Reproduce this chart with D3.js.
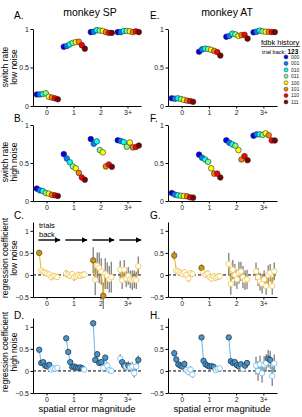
<!DOCTYPE html>
<html>
<head>
<meta charset="utf-8">
<script src="https://cdn.jsdelivr.net/npm/d3@7"></script>
<style>
  body { margin: 0; background: #fff; }
  svg text { font-family: "Liberation Sans", Arial, sans-serif; }
</style>
</head>
<body>
<svg id="fig" width="302" height="417"></svg>
<script>
// categories
const errGroups = [0, 1, 2, 3];
const errLabels = ['0', '1', '2', '3+'];
const histories = ['000', '001', '010', '011', '100', '101', '110', '111'];
const jetColors = ['#0000ff', '#0080ff', '#00ffff', '#80ff80', '#ffff00', '#ff8000', '#ff0000', '#800000'];

// switch rate, one row per error magnitude, one value per feedback history
const swSPlow = [
  [0.15, 0.15, 0.155, 0.165, 0.12, 0.11, 0.10, 0.087],
  [0.77, 0.78, 0.80, 0.82, 0.83, 0.835, 0.79, 0.745],
  [0.96, 0.965, 0.985, 0.98, 0.975, 0.96, 0.95, 0.95],
  [0.96, 0.96, 0.975, 0.975, 0.97, 0.96, 0.97, 0.96]
];
const swATlow = [
  [0.10, 0.095, 0.10, 0.09, 0.08, 0.07, 0.065, 0.055],
  [0.705, 0.735, 0.745, 0.74, 0.73, 0.715, 0.70, 0.655],
  [0.90, 0.91, 0.94, 0.93, 0.91, 0.92, 0.925, 0.875],
  [0.957, 0.965, 0.98, 0.97, 0.965, 0.965, 0.96, 0.96]
];
const swSPhigh = [
  [0.163, 0.14, 0.13, 0.105, 0.097, 0.08, 0.075, 0.066],
  [0.617, 0.56, 0.51, 0.455, 0.43, 0.37, 0.31, 0.28],
  [0.815, 0.753, 0.784, 0.67, 0.64, 0.455, 0.48, 0.45],
  [0.80, 0.79, 0.775, 0.714, 0.77, 0.705, 0.71, 0.73]
];
const swAThigh = [
  [0.105, 0.084, 0.075, 0.07, 0.066, 0.062, 0.048, 0.044],
  [0.61, 0.57, 0.546, 0.515, 0.43, 0.36, 0.36, 0.31],
  [0.80, 0.766, 0.745, 0.727, 0.67, 0.546, 0.59, 0.537],
  [0.86, 0.877, 0.877, 0.87, 0.89, 0.865, 0.797, 0.797]
];

// regression coefficients per trials back (10 lags) for each error magnitude
const regSPlow = [
  [0.50, 0.10, 0.07, 0.05, 0.03, 0.01, -0.05, -0.02, -0.03, -0.05],
  [0.03, 0.01, -0.02, 0.02, -0.05, -0.03, 0.00, -0.02, 0.00, 0.01],
  [0.33, -0.11, 0.21, 0.16, 0.08, -0.47, 0.03, -0.02, -0.10, -0.05],
  [0.12, -0.12, 0.12, -0.08, -0.02, -0.10, -0.12, -0.10, -0.12, 0.20]
];
const regSPlowErr = [
  [0.07, 0.06, 0.06, 0.06, 0.06, 0.06, 0.07, 0.06, 0.06, 0.06],
  [0.08, 0.07, 0.07, 0.07, 0.08, 0.07, 0.07, 0.07, 0.07, 0.07],
  [0.30, 0.35, 0.30, 0.35, 0.30, 0.30, 0.35, 0.30, 0.30, 0.35],
  [0.20, 0.20, 0.22, 0.20, 0.20, 0.20, 0.22, 0.20, 0.20, 0.22]
];
const regSPlowSig = [
  [1, 0, 0, 0, 0, 0, 0, 0, 0, 0],
  [0, 0, 0, 0, 0, 0, 0, 0, 0, 0],
  [1, 0, 0, 0, 0, 1, 0, 0, 0, 0],
  [0, 0, 0, 0, 0, 0, 0, 0, 0, 0]
];
const regATlow = [
  [0.44, 0.10, 0.08, 0.05, 0.02, 0.06, 0.00, -0.08, 0.04, 0.02],
  [0.16, 0.05, 0.01, 0.03, -0.05, -0.08, -0.03, -0.06, -0.04, -0.03],
  [0.25, -0.20, 0.12, 0.00, -0.10, 0.05, 0.08, -0.05, -0.12, -0.10],
  [0.08, -0.05, -0.15, -0.20, -0.10, -0.25, 0.00, 0.05, -0.25, 0.08]
];
const regATlowErr = [
  [0.10, 0.07, 0.07, 0.07, 0.07, 0.07, 0.07, 0.08, 0.07, 0.07],
  [0.08, 0.07, 0.07, 0.07, 0.07, 0.07, 0.07, 0.07, 0.07, 0.07],
  [0.25, 0.25, 0.22, 0.25, 0.22, 0.25, 0.22, 0.25, 0.22, 0.22],
  [0.20, 0.20, 0.20, 0.22, 0.20, 0.20, 0.22, 0.20, 0.20, 0.20]
];
const regATlowSig = [
  [1, 0, 0, 0, 0, 0, 0, 0, 0, 0],
  [1, 0, 0, 0, 0, 0, 0, 0, 0, 0],
  [0, 0, 0, 0, 0, 0, 0, 0, 0, 0],
  [0, 0, 0, 0, 0, 0, 0, 0, 0, 0]
];
const regSPhigh = [
  [0.48, 0.18, 0.20, 0.12, 0.10, 0.14, 0.03, 0.06, 0.05, 0.07],
  [0.74, 0.43, 0.20, 0.09, 0.10, 0.08, 0.07, 0.08, 0.06, 0.03],
  [1.08, 0.25, 0.38, 0.18, 0.20, 0.07, 0.30, 0.12, 0.02, 0.00],
  [0.28, 0.20, 0.12, 0.10, 0.12, 0.08, 0.10, -0.05, 0.10, 0.25]
];
const regSPhighErr = [
  [0.06, 0.05, 0.05, 0.05, 0.05, 0.05, 0.05, 0.05, 0.05, 0.05],
  [0.06, 0.06, 0.05, 0.05, 0.05, 0.05, 0.05, 0.05, 0.05, 0.05],
  [0.07, 0.07, 0.07, 0.07, 0.07, 0.07, 0.07, 0.07, 0.07, 0.07],
  [0.10, 0.10, 0.10, 0.10, 0.10, 0.10, 0.10, 0.10, 0.10, 0.10]
];
const regSPhighSig = [
  [1, 1, 1, 1, 1, 1, 0, 0, 0, 0],
  [1, 1, 1, 1, 1, 1, 1, 1, 1, 0],
  [1, 1, 1, 1, 1, 0, 1, 0, 0, 0],
  [0, 1, 1, 0, 1, 0, 0, 0, 0, 1]
];
const regAThigh = [
  [0.40, 0.26, 0.15, 0.12, 0.10, 0.16, 0.02, -0.02, 0.03, -0.08],
  [0.76, 0.23, 0.15, 0.12, 0.10, 0.11, 0.09, 0.02, 0.05, 0.06],
  [0.76, 0.22, 0.18, 0.20, 0.13, 0.10, 0.15, 0.05, 0.12, 0.18],
  [0.12, 0.00, 0.15, -0.05, 0.14, 0.18, 0.28, 0.25, -0.12, 0.17]
];
const regAThighErr = [
  [0.08, 0.07, 0.07, 0.07, 0.07, 0.07, 0.08, 0.08, 0.08, 0.08],
  [0.05, 0.05, 0.05, 0.05, 0.05, 0.05, 0.05, 0.05, 0.05, 0.05],
  [0.06, 0.06, 0.06, 0.06, 0.06, 0.06, 0.06, 0.06, 0.06, 0.06],
  [0.20, 0.22, 0.20, 0.22, 0.20, 0.20, 0.20, 0.20, 0.22, 0.20]
];
const regAThighSig = [
  [1, 1, 1, 1, 1, 1, 0, 0, 0, 0],
  [1, 1, 1, 1, 1, 1, 1, 0, 0, 0],
  [1, 1, 1, 1, 1, 1, 1, 0, 1, 1],
  [0, 0, 0, 0, 0, 0, 1, 1, 0, 0]
];

const svg = d3.select('#fig');

const xLeft = d3.scaleLinear().domain([-0.5, 3.5]).range([33, 141]);
const xRight = d3.scaleLinear().domain([-0.5, 3.5]).range([168, 277]);

const yA = d3.scaleLinear().domain([0, 1]).range([106, 29]);
const yB = d3.scaleLinear().domain([0, 1]).range([201, 125]);
const yC = d3.scaleLinear().domain([-0.5, 1.2]).range([297, 222]);
const yD = d3.scaleLinear().domain([-0.5, 1.2]).range([393, 318]);

const histOffset = d3.scaleLinear().domain([0, 7]).range([-0.36, 0.42]);
const lagOffset = d3.scaleLinear().domain([0, 9]).range([-0.27, 0.40]);

function fmtTick(d) {
  if (d === 0) return '0';
  if (d === 1) return '1';
  return (d < 0 ? '\u2212' : '') + Math.abs(d);
}

function axes(xs, ys, yTicks) {
  const gy = svg.append('g')
    .attr('transform', 'translate(' + xs.range()[0] + ',0)')
    .call(d3.axisLeft(ys).tickValues(yTicks).tickFormat(fmtTick).tickSize(2.5).tickSizeOuter(0).tickPadding(1.5));
  const gx = svg.append('g')
    .attr('transform', 'translate(0,' + ys.range()[0] + ')')
    .call(d3.axisBottom(xs).tickValues(errGroups).tickFormat((d, i) => errLabels[i]).tickSize(2.5).tickSizeOuter(0).tickPadding(1.5));
  [gx, gy].forEach(g => {
    g.selectAll('text').attr('font-size', 7).attr('fill', '#222');
    g.selectAll('line').attr('stroke', '#000');
    g.select('.domain').attr('stroke', '#000');
  });
}

function switchPanel(xs, ys, data) {
  axes(xs, ys, [0, 0.5, 1]);
  const g = svg.append('g');
  data.forEach((row, gi) => {
    g.selectAll(null)
      .data(row)
      .enter()
      .append('circle')
      .attr('cx', (d, i) => xs(errGroups[gi] + histOffset(i)))
      .attr('cy', d => ys(d))
      .attr('r', 2.8)
      .attr('fill', (d, i) => jetColors[i])
      .attr('stroke', '#2a2a2a')
      .attr('stroke-width', 0.6);
  });
}

function regPanel(xs, ys, vals, errs, sig, col) {
  axes(xs, ys, [-0.5, 0, 0.5, 1]);
  svg.append('line')
    .attr('x1', xs.range()[0]).attr('x2', xs.range()[1])
    .attr('y1', ys(0)).attr('y2', ys(0))
    .attr('stroke', '#000').attr('stroke-width', 1)
    .attr('stroke-dasharray', '3,2');
  const line = d3.line().x(d => d.x).y(d => d.y);
  vals.forEach((row, gi) => {
    const pts = row.map((v, i) => ({
      x: xs(errGroups[gi] + lagOffset(i)),
      y: ys(v),
      lo: ys(v - errs[gi][i]),
      hi: ys(v + errs[gi][i]),
      s: sig[gi][i]
    }));
    const g = svg.append('g');
    g.selectAll('line.err')
      .data(pts)
      .enter()
      .append('line')
      .attr('class', 'err')
      .attr('x1', d => d.x).attr('x2', d => d.x)
      .attr('y1', d => d.lo).attr('y2', d => d.hi)
      .attr('stroke', '#7f7f7f').attr('stroke-width', 1.3);
    g.append('path')
      .attr('d', line(pts))
      .attr('fill', 'none')
      .attr('stroke', col.line)
      .attr('stroke-width', 1);
    g.selectAll('circle')
      .data(pts)
      .enter()
      .append('circle')
      .attr('cx', d => d.x)
      .attr('cy', d => d.y)
      .attr('r', 2.7)
      .attr('fill', d => d.s ? col.fill : '#fff')
      .attr('stroke', d => d.s ? col.edge : col.open)
      .attr('stroke-width', 0.8);
  });
}

const gold = { fill: '#c8961e', edge: '#6e5210', open: '#f2c445', line: '#eab52c' };
const blue = { fill: '#4d94c4', edge: '#1d3c58', open: '#6cbcea', line: '#6ab6e2' };

switchPanel(xLeft, yA, swSPlow);
switchPanel(xRight, yA, swATlow);
switchPanel(xLeft, yB, swSPhigh);
switchPanel(xRight, yB, swAThigh);
regPanel(xLeft, yC, regSPlow, regSPlowErr, regSPlowSig, gold);
regPanel(xRight, yC, regATlow, regATlowErr, regATlowSig, gold);
regPanel(xLeft, yD, regSPhigh, regSPhighErr, regSPhighSig, blue);
regPanel(xRight, yD, regAThigh, regAThighErr, regAThighSig, blue);

// titles and panel letters
svg.append('text').attr('x', 90).attr('y', 16).attr('text-anchor', 'middle')
  .attr('font-size', 10.5).text('monkey SP');
svg.append('text').attr('x', 227).attr('y', 16).attr('text-anchor', 'middle')
  .attr('font-size', 10.5).text('monkey AT');

const letters = [
  ['A.', 14, 19], ['B.', 14, 122], ['C.', 14, 219], ['D.', 14, 319],
  ['E.', 150, 19], ['F.', 150, 122], ['G.', 150, 219], ['H.', 150, 319]
];
svg.selectAll('text.letter')
  .data(letters)
  .enter()
  .append('text')
  .attr('class', 'letter')
  .attr('x', d => d[1]).attr('y', d => d[2])
  .attr('font-size', 10)
  .text(d => d[0]);

// y labels (two lines each)
function ylab(cy, l1, l2) {
  svg.append('text').attr('transform', 'translate(8,' + cy + ') rotate(-90)')
    .attr('text-anchor', 'middle').attr('font-size', 8.5).text(l1);
  svg.append('text').attr('transform', 'translate(17,' + cy + ') rotate(-90)')
    .attr('text-anchor', 'middle').attr('font-size', 8.5).text(l2);
}
ylab(67, 'switch rate', 'low noise');
ylab(162, 'switch rate', 'high noise');
ylab(258, 'regression coefficient', 'low noise');
ylab(352, 'regression coefficient', 'high noise');

// x labels
svg.append('text').attr('x', 87).attr('y', 412).attr('text-anchor', 'middle')
  .attr('font-size', 9.5).text('spatial error magnitude');
svg.append('text').attr('x', 222).attr('y', 412).attr('text-anchor', 'middle')
  .attr('font-size', 9.5).text('spatial error magnitude');

// trials back arrows
const defs = svg.append('defs');
defs.append('marker')
  .attr('id', 'arr')
  .attr('viewBox', '0 0 10 10')
  .attr('refX', 9).attr('refY', 5)
  .attr('markerWidth', 4).attr('markerHeight', 4)
  .attr('orient', 'auto')
  .append('path').attr('d', 'M0,0 L10,5 L0,10 z').attr('fill', '#000');
svg.selectAll('line.arrow')
  .data(errGroups)
  .enter()
  .append('line')
  .attr('class', 'arrow')
  .attr('x1', d => xLeft(d - 0.3))
  .attr('x2', d => xLeft(d + 0.5))
  .attr('y1', 240).attr('y2', 240)
  .attr('stroke', '#000').attr('stroke-width', 1.4)
  .attr('marker-end', 'url(#arr)');
svg.append('text').attr('x', 39).attr('y', 228).attr('font-size', 7.5).text('trials');
svg.append('text').attr('x', 39).attr('y', 236.5).attr('font-size', 7.5).text('back');

// legend
const leg = svg.append('g');
leg.append('text').attr('x', 261).attr('y', 45).attr('font-size', 7.5).text('fdbk history');
leg.append('line').attr('x1', 261).attr('x2', 300).attr('y1', 46.5).attr('y2', 46.5)
  .attr('stroke', '#000').attr('stroke-width', 0.6);
const tb = leg.append('text').attr('x', 262).attr('y', 53.5).attr('font-size', 5.6);
tb.append('tspan').text('trial back: ');
tb.append('tspan').attr('font-weight', 'bold').attr('font-size', 6.5).text('123');
const legY = d3.scaleLinear().domain([0, 7]).range([57, 102]);
leg.selectAll('circle')
  .data(histories)
  .enter()
  .append('circle')
  .attr('cx', 286)
  .attr('cy', (d, i) => legY(i))
  .attr('r', 2)
  .attr('fill', (d, i) => jetColors[i])
  .attr('stroke', '#2a2a2a')
  .attr('stroke-width', 0.5);
leg.selectAll('text.h')
  .data(histories)
  .enter()
  .append('text')
  .attr('class', 'h')
  .attr('x', 291)
  .attr('y', (d, i) => legY(i) + 1.8)
  .attr('font-size', 5)
  .attr('fill', '#222')
  .text(d => d);
</script>
</body>
</html>
